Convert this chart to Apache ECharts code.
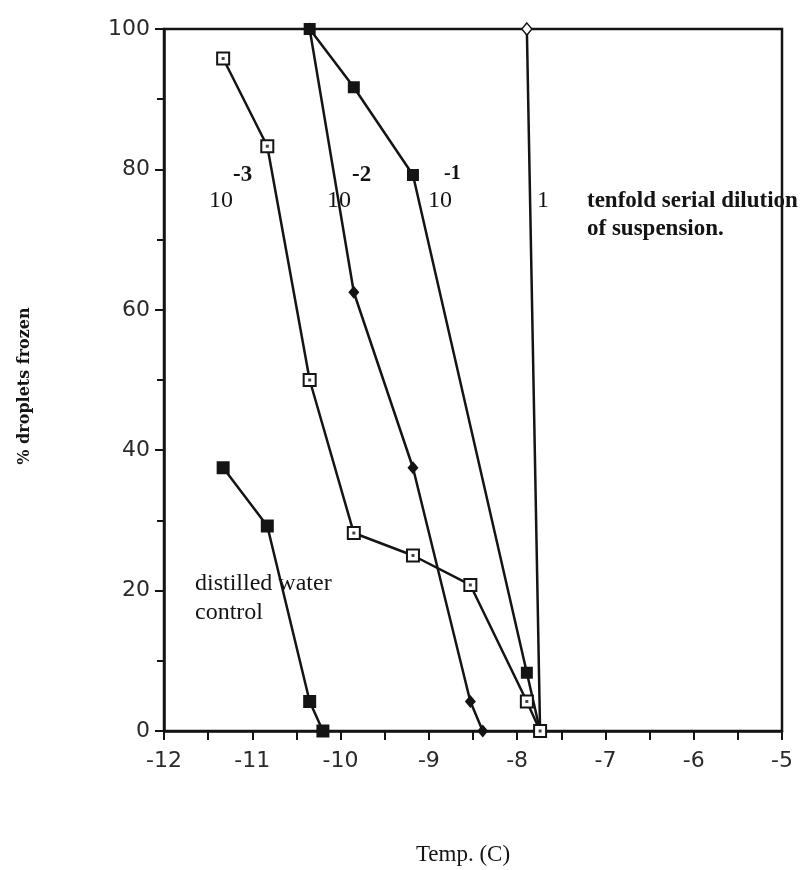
<!DOCTYPE html>
<html>
<head>
<meta charset="utf-8">
<title>% droplets frozen vs temperature</title>
<script src="https://cdn.jsdelivr.net/npm/echarts@6/dist/echarts.min.js"></script>
<style>
  html, body { margin: 0; padding: 0; background: #fff; }
  #chart { width: 811px; height: 870px; }
</style>
</head>
<body>
<div id="chart"></div>
<script>
// Axis ticks
const xTicks = [-12, -11, -10, -9, -8, -7, -6, -5];
const yTicks = [0, 20, 40, 60, 80, 100];

// Tenfold serial dilutions of the suspension: temperature (C) and % droplets frozen
const dil3Temp = [-11.33, -10.83, -10.35, -9.85, -9.18, -8.53, -7.89, -7.74];
const dil3Frozen = [95.8, 83.3, 50, 28.2, 25, 20.8, 4.2, 0];

const dil2Temp = [-10.35, -9.85, -9.18, -8.53, -8.39];
const dil2Frozen = [100, 62.5, 37.5, 4.2, 0];

const dil1Temp = [-10.35, -9.85, -9.18, -7.89, -7.74];
const dil1Frozen = [100, 91.7, 79.2, 8.3, 0];

const undilTemp = [-7.89, -7.74];
const undilFrozen = [100, 0];

// Distilled water control
const waterTemp = [-11.33, -10.83, -10.35, -10.2];
const waterFrozen = [37.5, 29.2, 4.2, 0];

const pairs = (xs, ys) => xs.map((x, i) => [x, ys[i]]);

const INK = '#141414';
const serif = '"Liberation Serif", "Times New Roman", serif';
const sans = '"DejaVu Sans", sans-serif';

const chart = echarts.init(document.getElementById('chart'), null, { renderer: 'canvas' });

const lineBase = {
  type: 'line',
  clip: false,
  lineStyle: { color: INK, width: 2.5 },
  emphasis: { disabled: true },
  animation: false
};

const option = {
  backgroundColor: '#fff',
  animation: false,
  grid: {
    left: 164, right: 29, top: 29, bottom: 139,
    show: true, borderColor: INK, borderWidth: 2.5, backgroundColor: 'transparent'
  },
  xAxis: {
    type: 'value',
    min: xTicks[0], max: xTicks[xTicks.length - 1], interval: 1,
    axisLine: { onZero: false, lineStyle: { color: INK, width: 2.5 } },
    axisTick: { length: 9, lineStyle: { color: INK, width: 2 } },
    minorTick: { show: true, splitNumber: 2, length: 9, lineStyle: { color: INK, width: 2 } },
    splitLine: { show: false },
    axisLabel: {
      margin: 19, color: '#2a2a2a', fontFamily: sans, fontSize: 22,
      formatter: v => xTicks.includes(v) ? String(v) : ''
    }
  },
  yAxis: {
    type: 'value',
    min: yTicks[0], max: yTicks[yTicks.length - 1], interval: 20,
    axisLine: { lineStyle: { color: INK, width: 2.5 } },
    axisTick: { length: 9, lineStyle: { color: INK, width: 2 } },
    minorTick: { show: true, splitNumber: 2, length: 7, lineStyle: { color: INK, width: 2 } },
    splitLine: { show: false },
    axisLabel: {
      margin: 14, color: '#2a2a2a', fontFamily: sans, fontSize: 22,
      formatter: v => yTicks.includes(v) ? String(v) : ''
    }
  },
  series: [
    Object.assign({}, lineBase, {
      name: 'undiluted', z: 2,
      data: pairs(undilTemp, undilFrozen),
      symbol: 'diamond', symbolSize: [10, 12],
      itemStyle: { color: '#fff', borderColor: INK, borderWidth: 1.5 }
    }),
    Object.assign({}, lineBase, {
      name: '1e-2', z: 3,
      data: pairs(dil2Temp, dil2Frozen),
      symbol: 'diamond', symbolSize: [11, 13],
      itemStyle: { color: INK }
    }),
    Object.assign({}, lineBase, {
      name: '1e-1', z: 4,
      data: pairs(dil1Temp, dil1Frozen),
      symbol: 'rect', symbolSize: 12,
      itemStyle: { color: INK }
    }),
    Object.assign({}, lineBase, {
      name: 'water', z: 4,
      data: pairs(waterTemp, waterFrozen),
      symbol: 'rect', symbolSize: 13,
      itemStyle: { color: INK }
    }),
    Object.assign({}, lineBase, {
      name: '1e-3', z: 5,
      data: pairs(dil3Temp, dil3Frozen),
      symbol: 'rect', symbolSize: 12,
      itemStyle: { color: '#fff', borderColor: INK, borderWidth: 2 }
    }),
    {
      // centre dots of the open squares
      type: 'scatter', name: '1e-3 dots', z: 6, clip: false,
      data: pairs(dil3Temp, dil3Frozen),
      symbol: 'rect', symbolSize: 3,
      itemStyle: { color: INK },
      emphasis: { disabled: true }
    }
  ],
  graphic: [
    // dilution labels
    { type: 'text', left: 209, top: 189, style: { text: '10', font: `24px ${serif}`, fill: INK } },
    { type: 'text', left: 233, top: 164, style: { text: '-3', font: `bold 23px ${serif}`, fill: INK } },
    { type: 'text', left: 327, top: 189, style: { text: '10', font: `24px ${serif}`, fill: INK } },
    { type: 'text', left: 352, top: 164, style: { text: '-2', font: `bold 23px ${serif}`, fill: INK } },
    { type: 'text', left: 428, top: 189, style: { text: '10', font: `24px ${serif}`, fill: INK } },
    { type: 'text', left: 444, top: 164, style: { text: '-1', font: `bold 20px ${serif}`, fill: INK } },
    { type: 'text', left: 537, top: 189, style: { text: '1', font: `24px ${serif}`, fill: INK } },
    {
      type: 'text', left: 587, top: 187,
      style: { text: 'tenfold serial dilution\nof suspension.', font: `bold 23px ${serif}`, lineHeight: 28, fill: INK }
    },
    {
      type: 'text', left: 195, top: 569,
      style: { text: 'distilled water\ncontrol', font: `24px ${serif}`, lineHeight: 29, fill: INK }
    },
    // axis titles
    {
      type: 'text', x: 463, y: 855,
      style: { text: 'Temp. (C)', font: `23px ${serif}`, fill: INK, align: 'center', verticalAlign: 'middle' }
    },
    {
      type: 'text', x: 25, y: 386, rotation: Math.PI / 2,
      style: { text: '% droplets frozen', font: `bold 16px "DejaVu Serif", serif`, fill: INK, align: 'center', verticalAlign: 'middle' }
    }
  ]
};

chart.setOption(option);
</script>
</body>
</html>
